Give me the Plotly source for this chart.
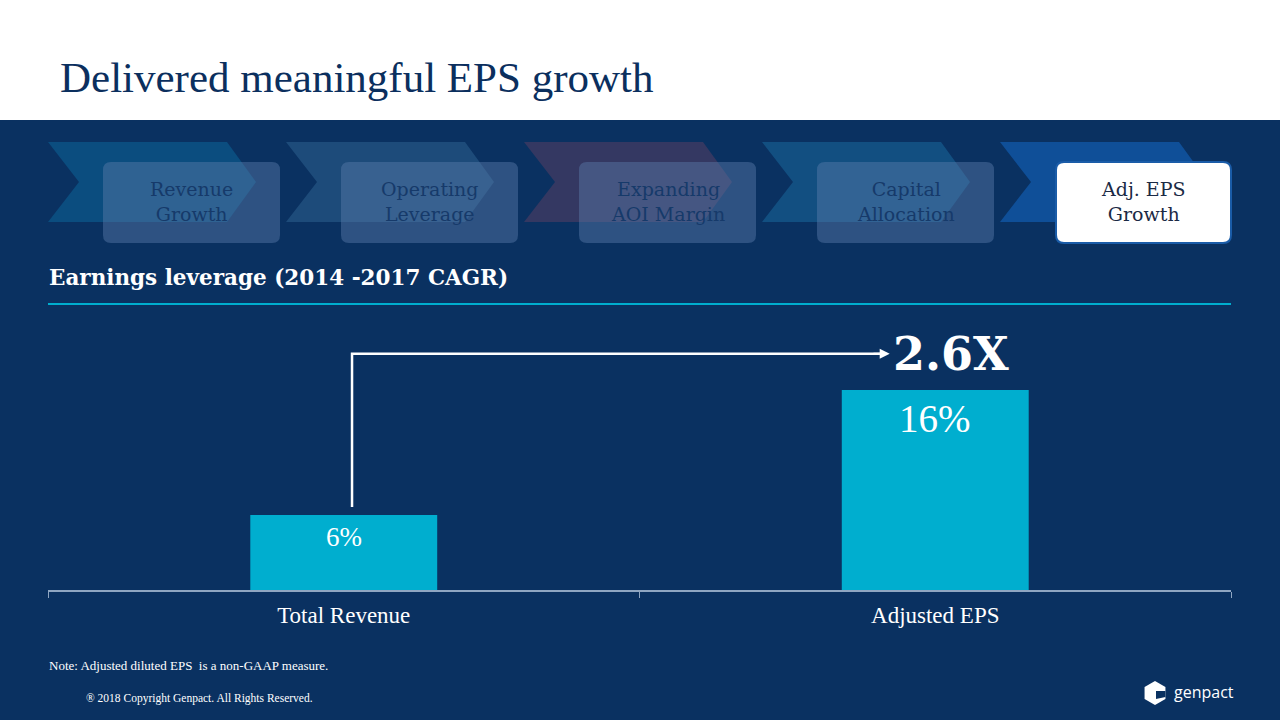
import plotly.graph_objects as go

# ---- data ----
categories = ["Total Revenue", "Adjusted EPS"]
cagr_values = [6, 16]
value_labels = ["6%", "16%"]
ratio_label = "2.6X"
steps = ["Revenue<br>Growth", "Operating<br>Leverage", "Expanding<br>AOI Margin",
         "Capital<br>Allocation", "Adj. EPS<br>Growth"]
title_text = "Delivered meaningful EPS growth"
subtitle_text = "Earnings leverage (2014 -2017 CAGR)"
note_text = "Note: Adjusted diluted EPS  is a non-GAAP measure."
copyright_text = "® 2018 Copyright Genpact. All Rights Reserved."

# ---- style ----
NAVY = "#0A3161"
CYAN = "#00AECF"
SERIF = "'Liberation Serif', serif"
WIDE_SERIF = "'DejaVu Serif', serif"
W, H = 1280, 720
L, R, T, B = 48, 49, 330, 130
PW, PH = W - L - R, H - T - B


def px(x):
    return (x - L) / PW


def py(y):
    return (H - B - y) / PH


fig = go.Figure()
fig.add_trace(go.Bar(
    x=categories, y=cagr_values, marker_color=CYAN, width=0.316,
    marker_line_width=0, hoverinfo="skip", showlegend=False,
))

shapes = []
annotations = []

# white header band
shapes.append(dict(type="rect", xref="paper", yref="paper", x0=px(0), x1=px(W),
                   y0=py(0), y1=py(120), fillcolor="white", line_width=0, layer="below"))

# chevrons
chev_colors = ["#0B4D7F", "#1D4B7A", "#343862", "#124F81", "#0F4F98"]
for k, lab in enumerate(steps):
    x0 = 48 + 238 * k
    yt, yb, ym = 142, 222, 182
    pts = [(x0, yt), (x0 + 179, yt), (x0 + 208, ym), (x0 + 179, yb), (x0, yb), (x0 + 31, ym)]
    path = "M " + " L ".join(f"{px(a)},{py(b)}" for a, b in pts) + " Z"
    shapes.append(dict(type="path", xref="paper", yref="paper", path=path,
                       fillcolor=chev_colors[k], line_width=0, layer="below"))
    # rounded box
    rx0, rx1, ry0, ry1, r = x0 + 55, x0 + 232, 162, 243, 8
    if k == 4:
        rx0, rx1 = 1056, 1231
    p = (f"M {px(rx0 + r)},{py(ry0)} L {px(rx1 - r)},{py(ry0)} "
         f"Q {px(rx1)},{py(ry0)} {px(rx1)},{py(ry0 + r)} L {px(rx1)},{py(ry1 - r)} "
         f"Q {px(rx1)},{py(ry1)} {px(rx1 - r)},{py(ry1)} L {px(rx0 + r)},{py(ry1)} "
         f"Q {px(rx0)},{py(ry1)} {px(rx0)},{py(ry1 - r)} L {px(rx0)},{py(ry0 + r)} "
         f"Q {px(rx0)},{py(ry0)} {px(rx0 + r)},{py(ry0)} Z")
    if k == 4:
        shapes.append(dict(type="path", xref="paper", yref="paper", path=p,
                           fillcolor="white", line=dict(color="#1A5CA8", width=2), layer="below"))
        tcol = "#1B2A45"
    else:
        shapes.append(dict(type="path", xref="paper", yref="paper", path=p,
                           fillcolor="rgba(90,125,170,0.45)", line_width=0, layer="below"))
        tcol = "#163A6A"
    annotations.append(dict(xref="paper", yref="paper", x=px((rx0 + rx1) / 2), y=py(201),
                            text=lab, showarrow=False, xanchor="center", yanchor="middle",
                            font=dict(family=WIDE_SERIF, size=19, color=tcol)))

# cyan rule under subtitle
shapes.append(dict(type="line", xref="paper", yref="paper", x0=px(48), x1=px(1231),
                   y0=py(304), y1=py(304), line=dict(color=CYAN, width=2)))

# elbow arrow from revenue bar to EPS label (data coords)
arrow_x0 = 0.014
arrow_x1 = 0.923
arrow_ybase = cagr_values[0] + 0.65
arrow_ytop = cagr_values[1] + 2.9
shapes.append(dict(type="path", xref="x", yref="y",
                   path=f"M {arrow_x0},{arrow_ybase} L {arrow_x0},{arrow_ytop} L {arrow_x1 - 0.01},{arrow_ytop}",
                   line=dict(color="white", width=2.5)))
annotations.append(dict(xref="x", yref="y", x=arrow_x1, y=arrow_ytop, ax=arrow_x1 - 0.03, ay=arrow_ytop,
                        axref="x", ayref="y", showarrow=True, arrowhead=2, arrowsize=1,
                        arrowwidth=2, arrowcolor="white", text=""))
annotations.append(dict(xref="x", yref="y", x=arrow_x1 + 0.002, y=arrow_ytop, text=f"<b>{ratio_label}</b>",
                        showarrow=False, xanchor="left", yanchor="middle",
                        font=dict(family=WIDE_SERIF, size=46, color="white")))

# bar value labels
for i, (c, v, lab) in enumerate(zip(categories, cagr_values, value_labels)):
    annotations.append(dict(xref="x", yref="y", x=i, y=v, text=lab, showarrow=False,
                            xanchor="center", yanchor="top", yshift=-5,
                            font=dict(family=SERIF, size=27 if i == 0 else 39, color="white")))

# title, subtitle, notes
annotations.append(dict(xref="paper", yref="paper", x=px(58), y=py(78), text=title_text,
                        showarrow=False, xanchor="left", yanchor="middle",
                        font=dict(family=SERIF, size=43, color="#0B2F5E")))
annotations.append(dict(xref="paper", yref="paper", x=px(47), y=py(277), text=f"<b>{subtitle_text}</b>",
                        showarrow=False, xanchor="left", yanchor="middle",
                        font=dict(family=WIDE_SERIF, size=21.5, color="white")))
annotations.append(dict(xref="paper", yref="paper", x=px(47), y=py(665), text=note_text,
                        showarrow=False, xanchor="left", yanchor="middle",
                        font=dict(family=SERIF, size=13, color="white")))
annotations.append(dict(xref="paper", yref="paper", x=px(84), y=py(698), text=copyright_text,
                        showarrow=False, xanchor="left", yanchor="middle",
                        font=dict(family=SERIF, size=11.5, color="white")))

# genpact logo (approximation)
cx, cy, s = 1155, 693, 12
hexpts = [(cx, cy - s), (cx + s * 0.87, cy - s / 2), (cx + s * 0.87, cy + s / 2),
          (cx, cy + s), (cx - s * 0.87, cy + s / 2), (cx - s * 0.87, cy - s / 2)]
shapes.append(dict(type="path", xref="paper", yref="paper",
                   path="M " + " L ".join(f"{px(a)},{py(b)}" for a, b in hexpts) + " Z",
                   fillcolor="white", line_width=0))
inner = [(cx + 1, cy - 2), (cx + s * 0.87, cy - 2), (cx + s * 0.87, cy + 4), (cx + 1, cy + 6)]
shapes.append(dict(type="path", xref="paper", yref="paper",
                   path="M " + " L ".join(f"{px(a)},{py(b)}" for a, b in inner) + " Z",
                   fillcolor=NAVY, line_width=0))
annotations.append(dict(xref="paper", yref="paper", x=px(1172), y=py(692), text="genpact",
                        showarrow=False, xanchor="left", yanchor="middle",
                        font=dict(family="'Open Sans', sans-serif", size=16, color="white")))

fig.update_layout(
    width=W, height=H,
    margin=dict(l=L, r=R, t=T, b=B, pad=0),
    paper_bgcolor=NAVY, plot_bgcolor=NAVY,
    shapes=shapes, annotations=annotations,
    showlegend=False,
    xaxis=dict(type="category", showgrid=False, zeroline=False,
               showline=True, linecolor="#8FA6C2", linewidth=1.5,
               ticks="outside", tickson="boundaries", ticklen=6, tickcolor="#8FA6C2",
               tickfont=dict(family=SERIF, size=23, color="white"), ticklabelstandoff=4),
    yaxis=dict(range=[0, 20.8], visible=False, showgrid=False, zeroline=False),
)

fig.write_html("out.html", config={"displayModeBar": False},
               post_script="document.body.style.margin='0';document.body.style.padding='0';")
